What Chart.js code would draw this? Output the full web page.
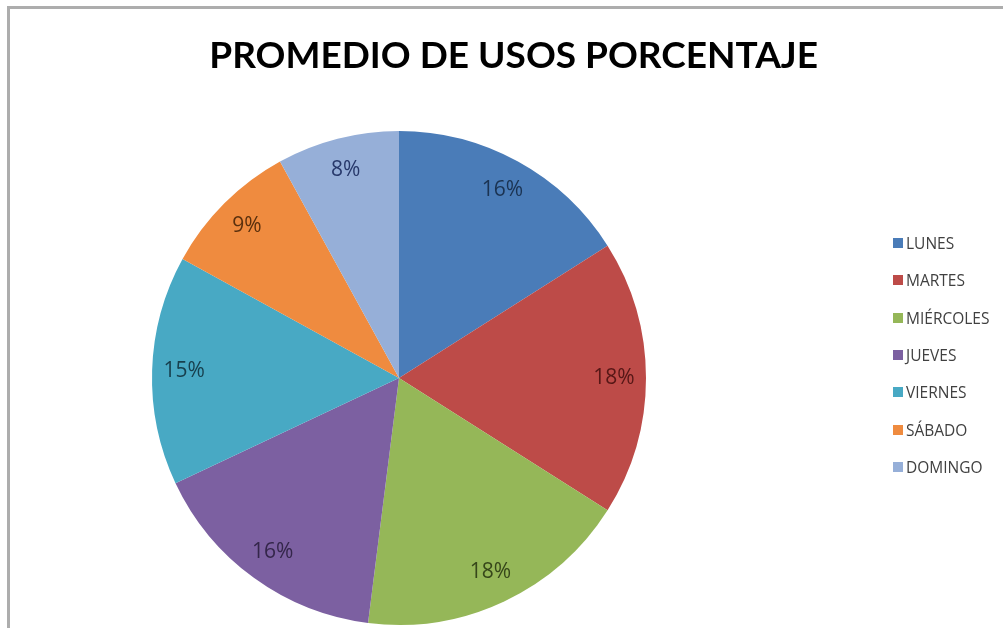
<!DOCTYPE html>
<html>
<head>
<meta charset="utf-8">
<script src="https://cdn.jsdelivr.net/npm/chart.js@4/dist/chart.umd.min.js"></script>
<style>
  html, body { margin: 0; padding: 0; background: #fff; overflow: hidden; }
  body { width: 1003px; height: 628px; position: relative; }
  #frame {
    position: absolute; left: 7px; top: 6px; right: 0; bottom: 0;
    border-top: 3px solid #adadad; border-left: 3px solid #adadad;
    pointer-events: none;
  }
  #wrap { position: absolute; left: -20px; top: 0; width: 1023px; height: 628px; }
  #legend { position: absolute; left: 893px; top: 235px; margin: 0; padding: 0; list-style: none; }
  #legend li {
    height: 37.33px; display: flex; align-items: flex-start;
    font: 15.5px "Open Sans", sans-serif; color: #404040; line-height: 16px;
  }
  #legend span.box { width: 10px; height: 10px; margin: 3px 3px 0 0; flex: none; }
</style>
</head>
<body>
<div id="wrap"><canvas id="pie"></canvas></div>
<ul id="legend"></ul>
<div id="frame"></div>
<script>
  // Usage share per weekday (percent)
  const days = ["LUNES", "MARTES", "MIÉRCOLES", "JUEVES", "VIERNES", "SÁBADO", "DOMINGO"];
  const usage = [16, 18, 18, 16, 15, 9, 8];

  const sliceColors = ["#4a7cb8", "#bd4b48", "#95b758", "#7c60a1", "#48a9c4", "#ef8b3f", "#96afd8"];
  const labelColors = ["#1b3352", "#561716", "#36461a", "#34264a", "#173f4d", "#5a300e", "#27386a"];

  // percent labels placed inside each slice, near the rim
  const sliceLabels = {
    id: "sliceLabels",
    afterDatasetsDraw(chart) {
      const ctx = chart.ctx;
      const meta = chart.getDatasetMeta(0);
      ctx.save();
      ctx.font = '21px "Open Sans", sans-serif';
      ctx.textAlign = "center";
      ctx.textBaseline = "middle";
      meta.data.forEach((arc, i) => {
        const p = arc.getProps(["x", "y", "startAngle", "endAngle", "outerRadius"], true);
        const mid = (p.startAngle + p.endAngle) / 2;
        const r = p.outerRadius * 0.87;
        ctx.fillStyle = labelColors[i];
        ctx.fillText(chart.data.datasets[0].data[i] + "%", p.x + Math.cos(mid) * r, p.y + Math.sin(mid) * r);
      });
      ctx.restore();
    }
  };

  const chart = new Chart(document.getElementById("pie"), {
    type: "pie",
    data: {
      labels: days,
      datasets: [{
        data: usage,
        backgroundColor: sliceColors,
        borderWidth: 0,
        hoverOffset: 0
      }]
    },
    options: {
      responsive: true,
      maintainAspectRatio: false,
      animation: false,
      events: [],
      layout: { padding: { left: 0, right: 185, top: 0, bottom: 3 } },
      plugins: {
        legend: { display: false },
        tooltip: { enabled: false },
        title: {
          display: true,
          text: "PROMEDIO DE USOS PORCENTAJE",
          align: "end",
          color: "#000",
          font: { family: "Lato", size: 37, weight: "bold", lineHeight: 1.2 },
          padding: { top: 34, bottom: 52.6 }
        }
      }
    },
    plugins: [sliceLabels]
  });

  // legend list built from the chart's own legend items
  const items = chart.options.plugins.legend.labels.generateLabels(chart);
  const list = document.getElementById("legend");
  items.forEach(item => {
    const li = document.createElement("li");
    const box = document.createElement("span");
    box.className = "box";
    box.style.background = item.fillStyle;
    li.appendChild(box);
    li.appendChild(document.createTextNode(item.text));
    list.appendChild(li);
  });
</script>
</body>
</html>
